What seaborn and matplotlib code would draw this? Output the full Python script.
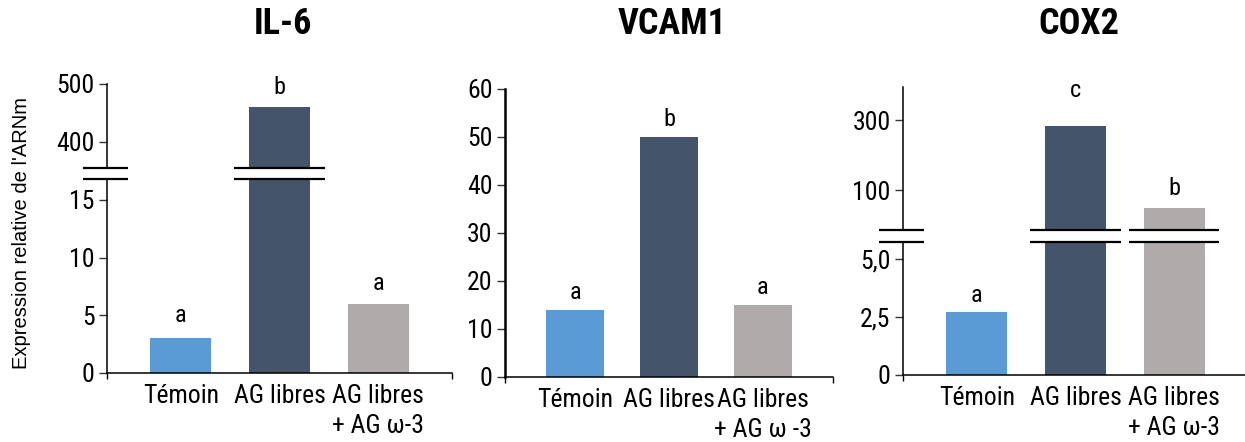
import numpy as np
import pandas as pd
import matplotlib
matplotlib.use("Agg")
import matplotlib.pyplot as plt
import seaborn as sns
from matplotlib import transforms
from matplotlib.ticker import FixedLocator, NullLocator, FixedFormatter

# ---------------- data ----------------
categories = ["Témoin", "AG libres", "AG libres\n+ AG ω-3"]
categories_vcam = ["Témoin", "AG libres", "AG libres\n+ AG ω -3"]
il6 = [3.0, 460.0, 6.0]
vcam1 = [14.0, 50.0, 15.0]
cox2 = [2.7, 275.0, 75.0]
letters_il6 = ["a", "b", "a"]
letters_vcam1 = ["a", "b", "a"]
letters_cox2 = ["a", "c", "b"]
titles = ["IL-6", "VCAM1", "COX2"]
ylabel = "Expression relative de l'ARNm"

il6_low_ticks = [0, 5, 10, 15]
il6_high_ticks = [400, 500]
vcam_ticks = [0, 10, 20, 30, 40, 50, 60]
cox_low_ticks = [0, 2.5, 5.0]
cox_low_labels = ["0", "2,5", "5,0"]
cox_high_ticks = [100, 300]
cox_high_labels = ["100", "300"]

colors = ["#5B9BD5", "#44546A", "#AFABAB"]

# ---------------- style ----------------
sns.set_style("ticks")
NARROW = ["Roboto Condensed", "Liberation Sans", "DejaVu Sans"]
plt.rcParams["font.family"] = NARROW
for k in ("text.color", "axes.labelcolor", "xtick.color", "ytick.color", "axes.edgecolor"):
    plt.rcParams[k] = "black"
TICK_FS = 18.5
LET_FS = 17.5
BAR_W = 0.62
XLIM = (-0.75, 2.75)

fig = plt.figure(figsize=(12.45, 4.42), dpi=100)
W, H = 1245.0, 442.0


def rect(x0, x1, ytop, ybot):
    return [x0 / W, 1 - ybot / H, (x1 - x0) / W, (ybot - ytop) / H]


def draw_bars(ax, cats, vals):
    df = pd.DataFrame({"cat": cats, "val": vals})
    sns.barplot(data=df, x="cat", y="val", hue="cat", palette=colors,
                order=cats, hue_order=cats, width=BAR_W, legend=False,
                ax=ax, saturation=1, linewidth=0)
    ax.set_xlim(*XLIM)
    ax.set_xlabel("")
    ax.set_ylabel("")
    for s in ax.spines.values():
        s.set_color("black")
        s.set_linewidth(1.1)
    ax.spines["right"].set_visible(False)
    ax.tick_params(axis="y", direction="out", length=6, width=1.0, color="#333333",
                   labelsize=TICK_FS, pad=3)


def style_bottom(ax, cats):
    ax.spines["top"].set_visible(False)
    ax.set_xticks(range(len(cats)))
    ax.set_xticklabels(cats, fontsize=TICK_FS, linespacing=1.3)
    ax.tick_params(axis="x", length=0, pad=8)
    ax.xaxis.set_minor_locator(FixedLocator([XLIM[0] + 0.002, XLIM[1] - 0.002]))
    ax.tick_params(axis="x", which="minor", direction="out", length=4, width=1.0, color="black")


def style_top(ax):
    ax.spines["bottom"].set_visible(False)
    ax.spines["top"].set_visible(False)
    ax.set_xticks([])
    ax.xaxis.set_minor_locator(NullLocator())


def letter(ax, i, val, txt, off):
    ax.annotate(txt, xy=(i, val), xytext=(0, off), textcoords="offset points",
                ha="center", va="bottom", fontsize=LET_FS, annotation_clip=False)


def break_marks(ax_low, ax_high, xs_half):
    for ax, yy in ((ax_low, 1.0), (ax_high, 0.0)):
        tr = transforms.blended_transform_factory(ax.transData, ax.transAxes)
        for c, hw in xs_half:
            ax.plot([c - hw, c + hw], [yy, yy], transform=tr, color="black",
                    lw=1.6, clip_on=False, solid_capstyle="butt", zorder=5)


def axis_break(ax_low, ax_high):
    for ax, yy in ((ax_low, 1.0), (ax_high, 0.0)):
        tr = transforms.blended_transform_factory(ax.transData, ax.transAxes)
        ax.plot([XLIM[0] - 0.245, XLIM[0] + 0.215], [yy, yy], transform=tr,
                color="black", lw=1.6, clip_on=False, solid_capstyle="butt", zorder=5)


# ---------------- panel 1 : IL-6 (broken) ----------------
ax1l = fig.add_axes(rect(107, 452, 179, 373))
ax1h = fig.add_axes(rect(107, 452, 84, 168))
draw_bars(ax1l, categories, il6)
draw_bars(ax1h, categories, il6)
ax1l.set_ylim(0, 16.8)
ax1h.set_ylim(355, 500)
ax1l.set_yticks(il6_low_ticks)
ax1h.set_yticks(il6_high_ticks)
style_bottom(ax1l, categories)
style_top(ax1h)
letter(ax1l, 0, il6[0], letters_il6[0], 8)
letter(ax1h, 1, il6[1], letters_il6[1], 6)
letter(ax1l, 2, il6[2], letters_il6[2], 6)
break_marks(ax1l, ax1h, [(1, 0.46)])
axis_break(ax1l, ax1h)

# ---------------- panel 2 : VCAM1 ----------------
ax2 = fig.add_axes(rect(505, 833, 89, 377))
draw_bars(ax2, categories_vcam, vcam1)
ax2.set_ylim(0, 60)
ax2.set_yticks(vcam_ticks)
style_bottom(ax2, categories_vcam)
ax2.spines["left"].set_linewidth(1.8)
for i, (v, t) in enumerate(zip(vcam1, letters_vcam1)):
    letter(ax2, i, v, t, 4)

# ---------------- panel 3 : COX2 (broken) ----------------
ax3l = fig.add_axes(rect(903, 1248, 242, 375))
ax3h = fig.add_axes(rect(903, 1248, 87, 230))
draw_bars(ax3l, categories, cox2)
draw_bars(ax3h, categories, cox2)
ax3h.set_yscale("log")
ax3l.set_ylim(0, 5.73)
ax3h.set_ylim(53.4, 504)
ax3l.yaxis.set_major_locator(FixedLocator(cox_low_ticks))
ax3l.yaxis.set_major_formatter(FixedFormatter(cox_low_labels))
ax3h.yaxis.set_major_locator(FixedLocator(cox_high_ticks))
ax3h.yaxis.set_major_formatter(FixedFormatter(cox_high_labels))
ax3h.yaxis.set_minor_locator(NullLocator())
style_bottom(ax3l, categories)
style_top(ax3h)
ax3h.tick_params(axis="y", direction="out", length=6, width=1.0, labelsize=TICK_FS)
letter(ax3l, 0, cox2[0], letters_cox2[0], 4)
letter(ax3h, 1, cox2[1], letters_cox2[1], 17)
letter(ax3h, 2, cox2[2], letters_cox2[2], 6)
break_marks(ax3l, ax3h, [(1, 0.46), (2, 0.46)])
axis_break(ax3l, ax3h)

# ---------------- titles & y label ----------------
for ax, t in ((ax1h, titles[0]), (ax2, titles[1]), (ax3h, titles[2])):
    tr = transforms.blended_transform_factory(ax.transData, fig.transFigure)
    ax.text(1.03, 1 - 24 / H, t, transform=tr, ha="center", va="center",
            fontsize=26, fontweight="bold")

fig.text(22 / W, 1 - 233 / H, ylabel, rotation=90, ha="center", va="center",
         fontsize=14.5, family=["Liberation Sans", "DejaVu Sans"])

fig.savefig("out.png", dpi=100)
